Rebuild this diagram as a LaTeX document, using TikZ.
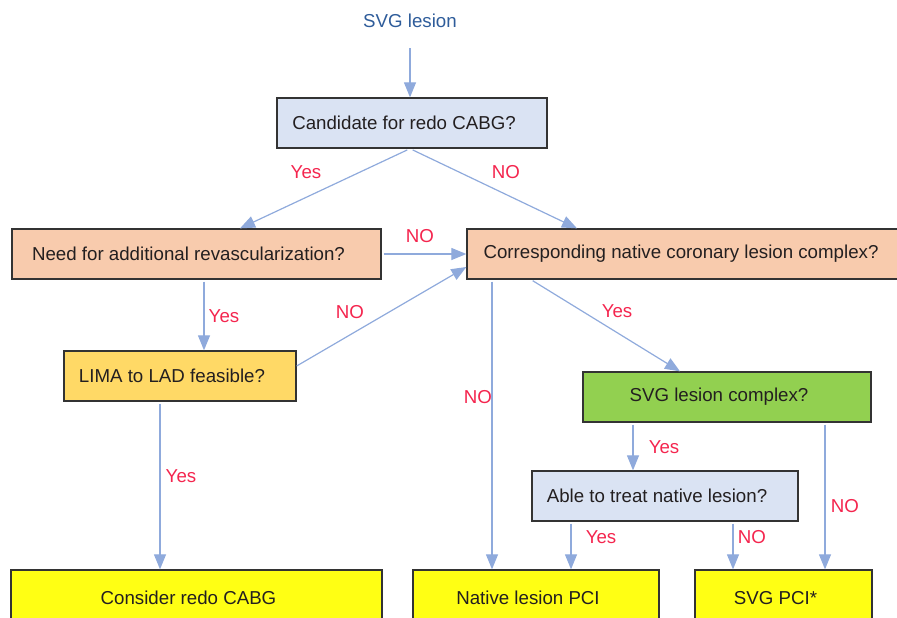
\documentclass[tikz,border=0pt]{standalone}
\usepackage{fontspec}
\setmainfont{Liberation Sans}
\usetikzlibrary{arrows.meta}
\definecolor{arrblue}{HTML}{8FAADC}
\definecolor{lblred}{HTML}{F4254E}
\definecolor{ttlblue}{HTML}{2E5C9A}
\definecolor{boxline}{HTML}{333333}
\definecolor{txtdark}{HTML}{231F20}
\definecolor{fblue}{HTML}{DAE3F3}
\definecolor{forange}{HTML}{F8CBAD}
\definecolor{fgold}{HTML}{FFD966}
\definecolor{fgreen}{HTML}{92D050}
\definecolor{fyellow}{HTML}{FFFF14}
\tikzset{
  box/.style={draw=boxline, line width=1.3pt, minimum height=50pt, inner sep=0pt,
    text=txtdark, font=\fontsize{18.7}{22}\selectfont},
  arr/.style={draw=arrblue, line width=1.2pt, -{Triangle[length=15pt,width=12pt]}, shorten <=2pt},
  lbl/.style={text=lblred, font=\fontsize{18.7}{22}\selectfont, inner sep=0pt}
}
\newcommand{\tx}[1]{\raisebox{-1.5pt}{#1}\kern16pt\relax}
\begin{document}
\begin{tikzpicture}[x=1pt,y=-1pt]
\useasboundingbox (0,0) rectangle (897,618);
\clip (0,0) rectangle (897,618);
\node[text=ttlblue, font=\fontsize{18.7}{22}\selectfont, inner sep=0pt] (title) at (410,21) {SVG lesion};
\node[box, fill=fblue, minimum width=270pt] (cand) at (412,123) {\tx{Candidate for redo CABG?}};
\node[box, fill=forange, minimum width=369pt] (need) at (196.5,254) {\tx{Need for additional revascularization?}};
\node[box, fill=forange, minimum width=444pt] (corr) at (689,254) {\tx{Corresponding native coronary lesion complex?}};
\node[box, fill=fgold, minimum width=232pt] (lima) at (180,376) {\tx{LIMA to LAD feasible?}};
\node[box, fill=fgreen, minimum width=288pt] (svgc) at (727,397) {\tx{SVG lesion complex?}};
\node[box, fill=fblue, minimum width=266pt] (able) at (665,496) {\tx{Able to treat native lesion?}};
\node[box, fill=fyellow, minimum width=371pt, minimum height=56pt] (cons) at (196.5,598) {\tx{Consider redo CABG}};
\node[box, fill=fyellow, minimum width=246pt, minimum height=56pt] (nat) at (536,598) {\tx{Native lesion PCI}};
\node[box, fill=fyellow, minimum width=177pt, minimum height=56pt] (svgpci) at (783.5,598) {\tx{SVG PCI*}};

\draw[arr, shorten <=20pt] (title.south) -- (cand.north -| 410,0);
\draw[arr, shorten <=3pt] (cand.south -| 410,0) -- (need.north -| 240,0);
\draw[arr, shorten <=3pt] (cand.south -| 410,0) -- (corr.north -| 577,0);
\draw[arr] (need.east) -- (corr.west);
\draw[arr] (need.south -| 204,0) -- (lima.north -| 204,0);
\draw[arr, shorten <=0pt] ([yshift=10pt]lima.east) -- ([yshift=-13pt]corr.west);
\draw[arr] (lima.south -| 160,0) -- (cons.north -| 160,0);
\draw[arr] (corr.south -| 492,0) -- (nat.north -| 492,0);
\draw[arr] (corr.south -| 531,0) -- (svgc.north -| 680,0);
\draw[arr] (svgc.south -| 633,0) -- (able.north -| 633,0);
\draw[arr] (svgc.south -| 825,0) -- (svgpci.north -| 825,0);
\draw[arr] (able.south -| 571,0) -- (nat.north -| 571,0);
\draw[arr] (able.south -| 733,0) -- (svgpci.north -| 733,0);

\node[lbl] (l1) at (306,172) {Yes};
\node[lbl] (l2) at (506,172) {NO};
\node[lbl] (l3) at (420,236) {NO};
\node[lbl] (l4) at (224,316) {Yes};
\node[lbl] (l5) at (350,312) {NO};
\node[lbl] (l6) at (181,476) {Yes};
\node[lbl] (l7) at (478,397) {NO};
\node[lbl] (l8) at (617,311) {Yes};
\node[lbl] (l9) at (664,447) {Yes};
\node[lbl] (l10) at (845,506) {NO};
\node[lbl] (l11) at (601,537) {Yes};
\node[lbl] (l12) at (752,537) {NO};
\end{tikzpicture}
\end{document}
